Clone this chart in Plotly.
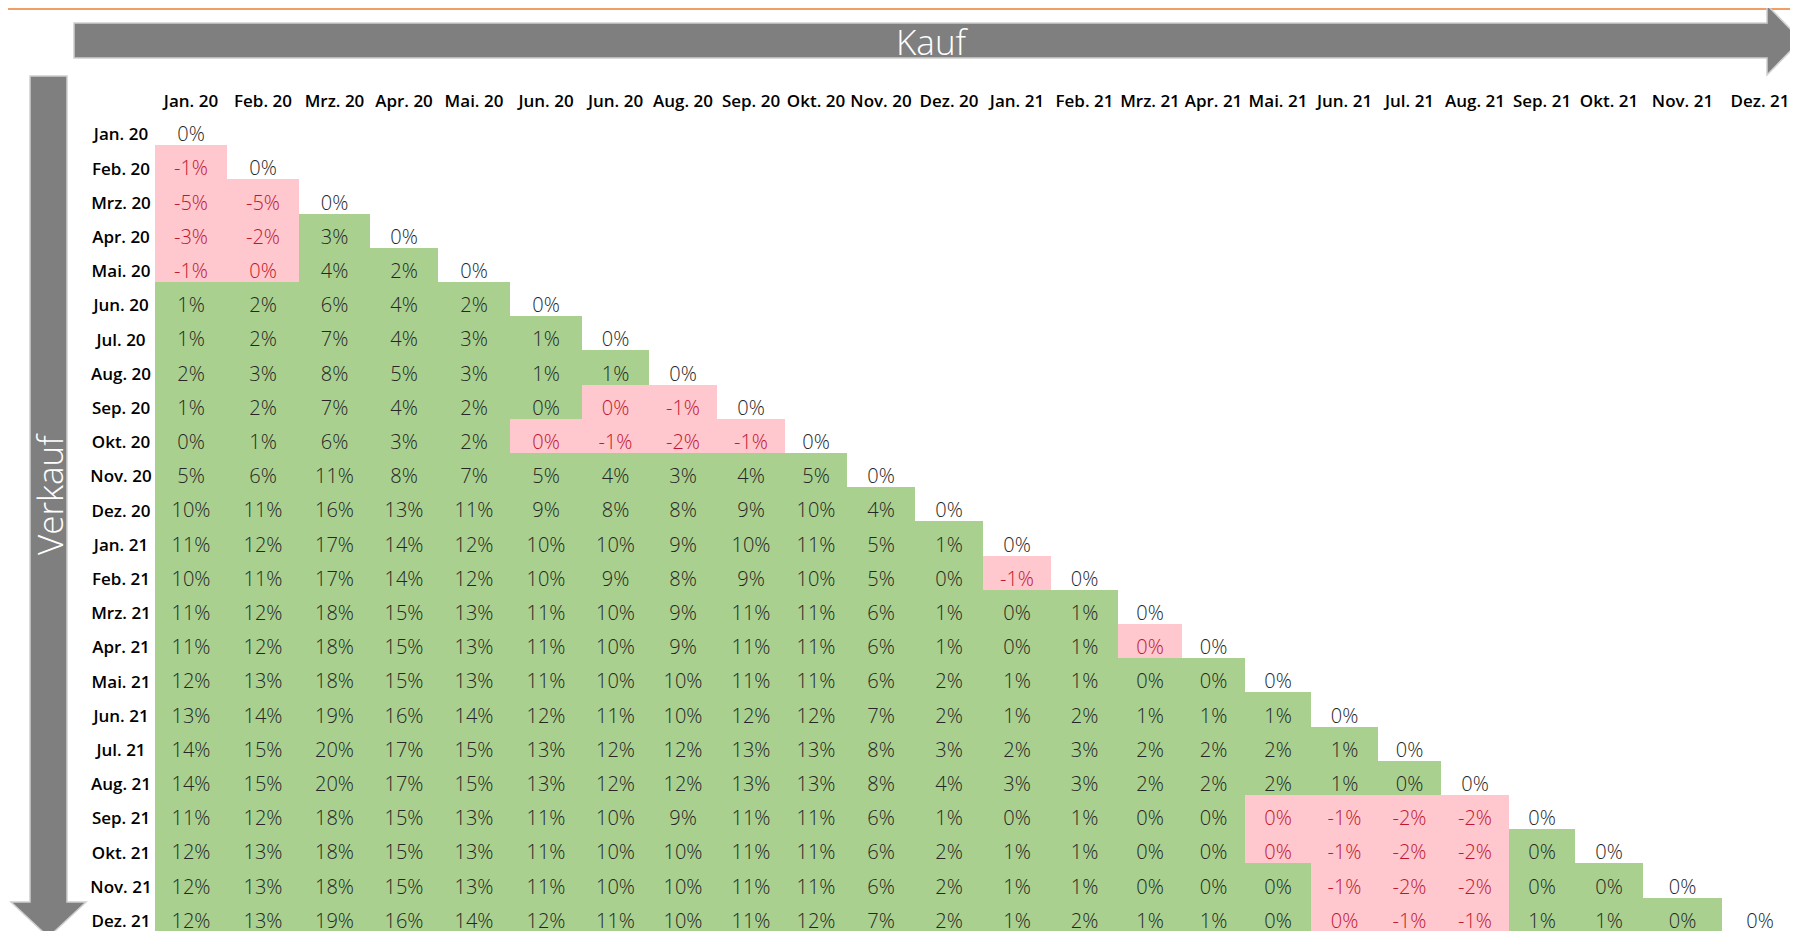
"""
Kauf / Verkauf matrix
Rebuilds the triangular return table (buy month vs. sell month) with Plotly.
"""

import plotly.graph_objects as go

# Buy months (columns) - the sheet really shows "Jun. 20" twice
KAUF = ['Jan. 20', 'Feb. 20', 'Mrz. 20', 'Apr. 20', 'Mai. 20', 'Jun. 20',
        'Jun. 20', 'Aug. 20', 'Sep. 20', 'Okt. 20', 'Nov. 20', 'Dez. 20',
        'Jan. 21', 'Feb. 21', 'Mrz. 21', 'Apr. 21', 'Mai. 21', 'Jun. 21',
        'Jul. 21', 'Aug. 21', 'Sep. 21', 'Okt. 21', 'Nov. 21', 'Dez. 21']

# Sell months (rows)
VERKAUF = ['Jan. 20', 'Feb. 20', 'Mrz. 20', 'Apr. 20', 'Mai. 20', 'Jun. 20',
           'Jul. 20', 'Aug. 20', 'Sep. 20', 'Okt. 20', 'Nov. 20', 'Dez. 20',
           'Jan. 21', 'Feb. 21', 'Mrz. 21', 'Apr. 21', 'Mai. 21', 'Jun. 21',
           'Jul. 21', 'Aug. 21', 'Sep. 21', 'Okt. 21', 'Nov. 21', 'Dez. 21']

# Return in % for each sell month, one value per buy month up to the diagonal.
# +/-0.3 are cells that read "0%" but are coloured green / red in the sheet.
R_JAN20 = [0]
R_FEB20 = [-1, 0]
R_MRZ20 = [-5, -5, 0]
R_APR20 = [-3, -2, 3, 0]
R_MAI20 = [-1, -0.3, 4, 2, 0]
R_JUN20 = [1, 2, 6, 4, 2, 0]
R_JUL20 = [1, 2, 7, 4, 3, 1, 0]
R_AUG20 = [2, 3, 8, 5, 3, 1, 1, 0]
R_SEP20 = [1, 2, 7, 4, 2, 0.3, -0.3, -1, 0]
R_OKT20 = [0.3, 1, 6, 3, 2, -0.3, -1, -2, -1, 0]
R_NOV20 = [5, 6, 11, 8, 7, 5, 4, 3, 4, 5, 0]
R_DEZ20 = [10, 11, 16, 13, 11, 9, 8, 8, 9, 10, 4, 0]
R_JAN21 = [11, 12, 17, 14, 12, 10, 10, 9, 10, 11, 5, 1, 0]
R_FEB21 = [10, 11, 17, 14, 12, 10, 9, 8, 9, 10, 5, 0.3, -1, 0]
R_MRZ21 = [11, 12, 18, 15, 13, 11, 10, 9, 11, 11, 6, 1, 0.3, 1, 0]
R_APR21 = [11, 12, 18, 15, 13, 11, 10, 9, 11, 11, 6, 1, 0.3, 1, -0.3, 0]
R_MAI21 = [12, 13, 18, 15, 13, 11, 10, 10, 11, 11, 6, 2, 1, 1, 0.3, 0.3, 0]
R_JUN21 = [13, 14, 19, 16, 14, 12, 11, 10, 12, 12, 7, 2, 1, 2, 1, 1, 1, 0]
R_JUL21 = [14, 15, 20, 17, 15, 13, 12, 12, 13, 13, 8, 3, 2, 3, 2, 2, 2, 1, 0]
R_AUG21 = [14, 15, 20, 17, 15, 13, 12, 12, 13, 13, 8, 4, 3, 3, 2, 2, 2, 1,
           0.3, 0]
R_SEP21 = [11, 12, 18, 15, 13, 11, 10, 9, 11, 11, 6, 1, 0.3, 1, 0.3, 0.3,
           -0.3, -1, -2, -2, 0]
R_OKT21 = [12, 13, 18, 15, 13, 11, 10, 10, 11, 11, 6, 2, 1, 1, 0.3, 0.3,
           -0.3, -1, -2, -2, 0.3, 0]
R_NOV21 = [12, 13, 18, 15, 13, 11, 10, 10, 11, 11, 6, 2, 1, 1, 0.3, 0.3,
           0.3, -1, -2, -2, 0.3, 0.3, 0]
R_DEZ21 = [12, 13, 19, 16, 14, 12, 11, 10, 11, 12, 7, 2, 1, 2, 1, 1, 0.3,
           -0.3, -1, -1, 1, 1, 0.3, 0]

RETURNS = [R_JAN20, R_FEB20, R_MRZ20, R_APR20, R_MAI20, R_JUN20, R_JUL20,
           R_AUG20, R_SEP20, R_OKT20, R_NOV20, R_DEZ20, R_JAN21, R_FEB21,
           R_MRZ21, R_APR21, R_MAI21, R_JUN21, R_JUL21, R_AUG21, R_SEP21,
           R_OKT21, R_NOV21, R_DEZ21]

# Sheet geometry (page pixels) - Excel columns are not all the same width
W, H = 1798, 931
PAGE_OFF = 8          # default <body> margin of the written html page
GRID_LEFT = 155
GRID_TOP = 111
ROW_H = 34.2
COL_WIDTHS = [72, 72, 71, 68, 72, 72, 67, 68, 68, 62, 68, 68,
              68, 67, 64, 63, 66, 67, 63, 68, 66, 68, 79, 76]
HEADER_Y = 103
LABEL_X = 121
TEXT_DY = 8

# Colours (Excel conditional formatting)
GREEN = '#A9D08E'
PINK = '#FFC7CE'
RED_TEXT = '#C0172F'
DARK_TEXT = '#262626'
ARROW_FILL = '#7F7F7F'
ARROW_EDGE = '#CFCFCF'
ORANGE = '#ED7D31'
FONT = 'Open Sans'

# Cell edges
x_edges = [GRID_LEFT]
for w in COL_WIDTHS:
    x_edges.append(x_edges[-1] + w)
y_edges = [GRID_TOP + ROW_H * i for i in range(len(VERKAUF) + 1)]
x_mid = [(a + b) / 2 for a, b in zip(x_edges[:-1], x_edges[1:])]
y_mid = [(a + b) / 2 for a, b in zip(y_edges[:-1], y_edges[1:])]

# Full matrix, empty above the diagonal
z = [row + [None] * (len(KAUF) - len(row)) for row in RETURNS]

fig = go.Figure()

# Cell fills: negative -> pink, diagonal 0 -> white, positive -> green
fig.add_trace(go.Heatmap(
    z=z, x=x_edges, y=y_edges,
    zmin=-0.1, zmax=0.1,
    colorscale=[[0, PINK], [0.45, PINK], [0.45, 'white'],
                [0.55, 'white'], [0.55, GREEN], [1, GREEN]],
    showscale=False, hoverinfo='skip'
))

# Cell texts
tx, ty, tt, tc = [], [], [], []
for i, row in enumerate(RETURNS):
    for j, v in enumerate(row):
        tx.append(x_mid[j])
        ty.append(y_mid[i] + TEXT_DY)
        tt.append(f"{round(v)}%")
        tc.append(RED_TEXT if v < 0 else DARK_TEXT)

fig.add_trace(go.Scatter(
    x=tx, y=ty, text=tt, mode='text',
    textposition='middle center',
    textfont=dict(family=FONT, size=20, color=tc, weight=300),
    hoverinfo='skip', cliponaxis=False
))

# Column headers (Kauf)
fig.add_trace(go.Scatter(
    x=x_mid, y=[HEADER_Y] * len(KAUF), text=KAUF, mode='text',
    textposition='middle center',
    textfont=dict(family=FONT, size=17, color='black', weight=600),
    hoverinfo='skip', cliponaxis=False
))

# Row labels (Verkauf)
fig.add_trace(go.Scatter(
    x=[LABEL_X] * len(VERKAUF), y=[m + TEXT_DY for m in y_mid],
    text=VERKAUF, mode='text',
    textposition='middle center',
    textfont=dict(family=FONT, size=17, color='black', weight=600),
    hoverinfo='skip', cliponaxis=False
))

# Orange rule at the top of the sheet
fig.add_shape(type='line', x0=0, x1=W + PAGE_OFF, y0=9, y1=9,
              line=dict(color=ORANGE, width=1.5), layer='below')

# Big block arrows
fig.add_shape(
    type='path',
    path='M 74,23 L 1767,23 L 1767,5 L 1801,40 L 1767,75 L 1767,58 L 74,58 Z',
    fillcolor=ARROW_FILL, line=dict(color=ARROW_EDGE, width=1.5), layer='above'
)
fig.add_shape(
    type='path',
    path='M 30,76 L 67,76 L 67,902 L 86,902 L 48.5,937 L 11,902 L 30,902 Z',
    fillcolor=ARROW_FILL, line=dict(color=ARROW_EDGE, width=1.5), layer='above'
)

fig.add_annotation(x=932, y=41, text='Kauf', showarrow=False,
                   font=dict(family=FONT, size=35, color='white', weight=300))
fig.add_annotation(x=49, y=494, text='Verkauf', showarrow=False, textangle=-90,
                   font=dict(family=FONT, size=35, color='white', weight=300))

# Axes run in page pixels, shifted by the body margin so marks land where the
# sheet has them
fig.update_layout(
    width=W, height=H,
    margin=dict(l=0, r=0, t=0, b=0),
    paper_bgcolor='white', plot_bgcolor='white',
    showlegend=False,
    xaxis=dict(range=[PAGE_OFF, W + PAGE_OFF], visible=False, fixedrange=True),
    yaxis=dict(range=[H + PAGE_OFF, PAGE_OFF], visible=False, fixedrange=True),
)

fig.write_html("out.html")
